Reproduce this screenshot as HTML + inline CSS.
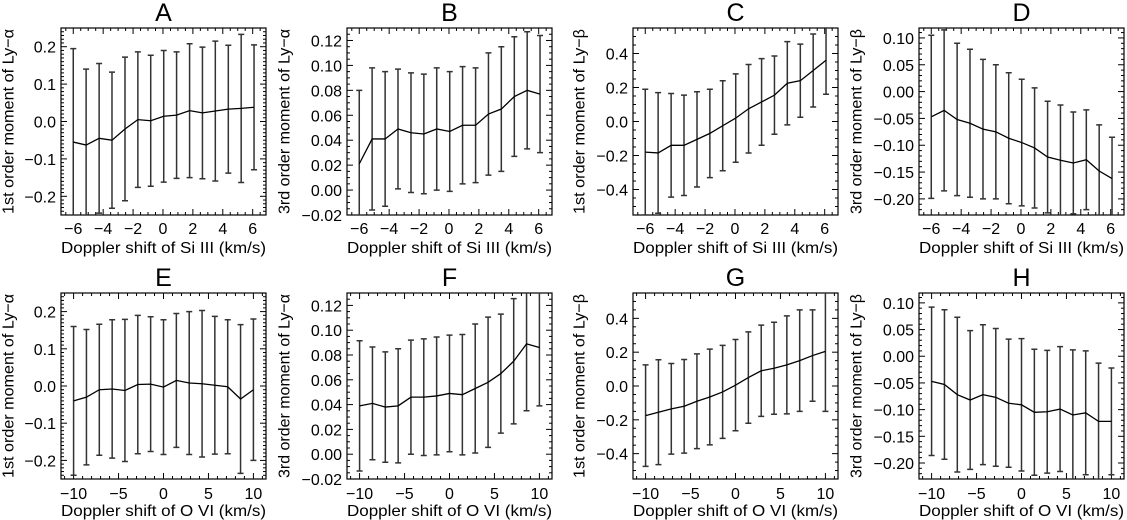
<!DOCTYPE html>
<html><head><meta charset="utf-8">
<style>
html,body{margin:0;padding:0;background:#fff;}
svg{display:block;font-family:"Liberation Sans",sans-serif;}
</style></head>
<body>
<svg id="fig" width="1127" height="520" viewBox="0 0 1127 520"></svg>
<script>
const xTop = [-6.0,-5.14,-4.27,-3.41,-2.54,-1.68,-0.82,0.05,0.91,1.78,2.64,3.50,4.37,5.23,6.09];
const xBot = [-10,-8.57,-7.14,-5.71,-4.29,-2.86,-1.43,0,1.43,2.86,4.29,5.71,7.14,8.57,10];

const meanA = [-0.055,-0.063,-0.045,-0.05,-0.02,0.005,0.002,0.014,0.017,0.029,0.023,0.028,0.033,0.035,0.038];
const errA  = [0.25,0.203,0.20,0.182,0.192,0.181,0.175,0.176,0.169,0.179,0.176,0.187,0.171,0.198,0.167];
const meanB = [0.021,0.041,0.041,0.049,0.046,0.045,0.049,0.047,0.052,0.052,0.061,0.065,0.075,0.080,0.077];
const errB  = [0.059,0.057,0.054,0.048,0.048,0.048,0.049,0.048,0.047,0.046,0.049,0.050,0.048,0.047,0.047];
const meanC = [-0.18,-0.185,-0.14,-0.14,-0.105,-0.07,-0.025,0.02,0.075,0.115,0.155,0.225,0.24,0.30,0.36];
const errC  = [0.37,0.355,0.305,0.295,0.28,0.26,0.265,0.26,0.26,0.255,0.23,0.245,0.215,0.215,0.2];
const meanD = [-0.047,-0.035,-0.052,-0.059,-0.07,-0.075,-0.087,-0.095,-0.105,-0.122,-0.128,-0.133,-0.127,-0.148,-0.162];
const errD  = [0.152,0.15,0.142,0.138,0.13,0.125,0.122,0.118,0.112,0.104,0.103,0.095,0.093,0.086,0.077];
const meanE = [-0.04,-0.03,-0.01,-0.008,-0.012,0.004,0.005,-0.003,0.015,0.008,0.006,0.002,-0.002,-0.035,-0.01];
const errE  = [0.2,0.182,0.176,0.186,0.191,0.186,0.181,0.181,0.18,0.192,0.197,0.185,0.18,0.2,0.19];
const meanF = [0.039,0.041,0.038,0.039,0.046,0.046,0.047,0.049,0.048,0.053,0.058,0.065,0.075,0.089,0.086];
const errF  = [0.0525,0.0455,0.0445,0.046,0.046,0.047,0.0475,0.047,0.0485,0.052,0.0525,0.048,0.0505,0.054,0.047];
const meanG = [-0.175,-0.155,-0.135,-0.12,-0.09,-0.065,-0.035,0.005,0.05,0.09,0.105,0.125,0.15,0.18,0.205];
const errG  = [0.3,0.31,0.268,0.277,0.28,0.283,0.275,0.27,0.27,0.27,0.272,0.29,0.30,0.27,0.355];
const meanH = [-0.047,-0.053,-0.072,-0.082,-0.072,-0.077,-0.088,-0.091,-0.105,-0.104,-0.099,-0.11,-0.106,-0.122,-0.122];
const errH  = [0.139,0.14,0.145,0.13,0.131,0.129,0.12,0.124,0.118,0.115,0.117,0.122,0.116,0.109,0.1];

const ticksXTop = [-6,-4,-2,0,2,4,6];
const ticksXBot = [-10,-5,0,5,10];
const ticksYa = [-0.2,-0.1,0,0.1,0.2];
const labelsYa = ["\u22120.2","\u22120.1","0.0","0.1","0.2"];
const ticksYb = [-0.02,0,0.02,0.04,0.06,0.08,0.10,0.12];
const labelsYb = ["\u22120.02","0.00","0.02","0.04","0.06","0.08","0.10","0.12"];
const ticksYc = [-0.4,-0.2,0,0.2,0.4];
const labelsYc = ["\u22120.4","\u22120.2","0.0","0.2","0.4"];
const ticksYd = [-0.20,-0.15,-0.10,-0.05,0,0.05,0.10];
const labelsYd = ["\u22120.20","\u22120.15","\u22120.10","\u22120.05","0.00","0.05","0.10"];

const NS = "http://www.w3.org/2000/svg";
const svg = document.getElementById('fig');
function mk(tag, attrs, parent){ const e=document.createElementNS(NS,tag); for(const k in attrs) e.setAttribute(k,attrs[k]); (parent||svg).appendChild(e); return e; }

const colL = [61,347,633,919];
const W = 205;
const rows = [{top:28,bot:215,titleY:21,tickY:234,labY:253},{top:293,bot:479,titleY:286,tickY:499,labY:516}];
const yCfg = [
 {dom:[-0.25,0.25],ticks:ticksYa,labels:labelsYa,minor:0.01,lab:"1st order moment of Ly\u2212\u03b1"},
 {dom:[-0.02,0.13],ticks:ticksYb,labels:labelsYb,minor:0.005,lab:"3rd order moment of Ly\u2212\u03b1"},
 {dom:[-0.55,0.55],ticks:ticksYc,labels:labelsYc,minor:0.05,lab:"1st order moment of Ly\u2212\u03b2"},
 {dom:[-0.23,0.1185],ticks:ticksYd,labels:labelsYd,minor:0.01,lab:"3rd order moment of Ly\u2212\u03b2"}
];
const ylabX = [9,285,580,857];
const panels = [
 {name:"A",r:0,c:0,x:xTop,m:meanA,e:errA},{name:"B",r:0,c:1,x:xTop,m:meanB,e:errB},
 {name:"C",r:0,c:2,x:xTop,m:meanC,e:errC},{name:"D",r:0,c:3,x:xTop,m:meanD,e:errD},
 {name:"E",r:1,c:0,x:xBot,m:meanE,e:errE},{name:"F",r:1,c:1,x:xBot,m:meanF,e:errF},
 {name:"G",r:1,c:2,x:xBot,m:meanG,e:errG},{name:"H",r:1,c:3,x:xBot,m:meanH,e:errH}
];

panels.forEach(p=>{
  const R=rows[p.r], yc=yCfg[p.c];
  const L=colL[p.c], Rt=L+W, T=R.top, B=R.bot;
  const xd = p.r===0?[-6.82,6.89]:[-11.4,11.4];
  const sx = v=>L+(v-xd[0])/(xd[1]-xd[0])*W;
  const sy = v=>B-(v-yc.dom[0])/(yc.dom[1]-yc.dom[0])*(B-T);
  const g = mk('g',{});
  
  
  const clipId='clip'+p.name;
  const cp=mk('clipPath',{id:clipId},g); mk('rect',{x:L,y:T,width:W,height:B-T},cp);
  // title
  const t=mk('text',{x:L+W/2,y:R.titleY,'text-anchor':'middle','font-size':25},g); t.textContent=p.name;
   
  // frame
  const fr=mk('rect',{x:L,y:T,width:W,height:B-T,fill:'none',stroke:'#000','stroke-width':1.2},g);
   
  // ticks
  const tk=mk('g',{stroke:'#000','stroke-width':1},g);
   
  const xmin = p.r===0?0.5:1;
  for(let v=Math.ceil(xd[0]/xmin)*xmin; v<=xd[1]; v+=xmin){
    const major = p.r===0 ? Math.abs(v/2-Math.round(v/2))<1e-6 : Math.abs(v/5-Math.round(v/5))<1e-6;
    const len = major?6:3, X=sx(v);
    mk('line',{x1:X,x2:X,y1:B,y2:B-len},tk); mk('line',{x1:X,x2:X,y1:T,y2:T+len},tk);
  }
  for(let k=Math.ceil(yc.dom[0]/yc.minor-1e-6); k*yc.minor<=yc.dom[1]+1e-9; k++){
    const v=k*yc.minor, Y=sy(v);
    const major = yc.ticks.some(tv=>Math.abs(tv-v)<1e-6);
    const len = major?6:3;
    mk('line',{x1:L,x2:L+len,y1:Y,y2:Y},tk); mk('line',{x1:Rt,x2:Rt-len,y1:Y,y2:Y},tk);
  }
  // tick labels
  const xt = p.r===0?ticksXTop:ticksXBot;
  xt.forEach(v=>{
    const s=mk('text',{x:sx(v),y:R.tickY,'text-anchor':'middle','font-size':16},g);
    s.textContent = v<0?"\u2212"+Math.abs(v):String(v);
     
  });
  yc.ticks.forEach((v,i)=>{
    const s=mk('text',{x:L-5,y:sy(v)+6,'text-anchor':'end','font-size':16},g);
    s.textContent=yc.labels[i];
     
  });
  // axis titles
  const xl=mk('text',{x:L+W/2,y:R.labY,'text-anchor':'middle','font-size':16,textLength:W,lengthAdjust:'spacingAndGlyphs'},g);
  xl.textContent = p.r===0?"Doppler shift of Si III (km/s)":"Doppler shift of O VI (km/s)";
   
  const cy=(T+B)/2;
  const yl=mk('text',{x:ylabX[p.c],y:cy,'text-anchor':'middle','font-size':16,'dominant-baseline':'central',transform:`rotate(-90 ${ylabX[p.c]} ${cy})`,textLength:B-T-2,lengthAdjust:'spacingAndGlyphs'},g);
  yl.textContent=yc.lab;
   
  // data
  const dg=mk('g',{'clip-path':`url(#${clipId})`},g);
   
  p.x.forEach((xv,i)=>{
    const X=sx(xv), y1=sy(p.m[i]+p.e[i]), y2=sy(p.m[i]-p.e[i]);
    const eb=mk('path',{d:`M${X},${y1}V${y2}M${X-3},${y1}H${X+3}M${X-3},${y2}H${X+3}`,stroke:'#333','stroke-width':1.5,fill:'none'},dg);
     
  });
  const pts=p.x.map((xv,i)=>sx(xv)+','+sy(p.m[i])).join(' ');
  const ln=mk('polyline',{points:pts,fill:'none',stroke:'#000','stroke-width':1.3},dg);
   
});
</script>
</body></html>
